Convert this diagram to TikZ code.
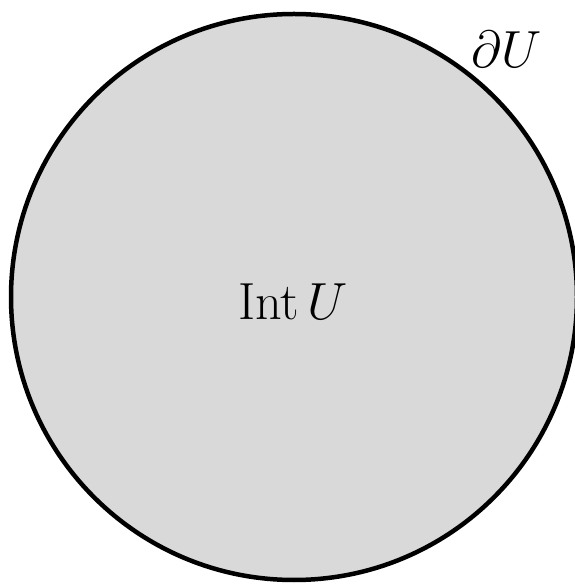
\documentclass[tikz,border=0pt]{standalone}
\usepackage{amsmath,amssymb}
\usepackage{tikz}
\usetikzlibrary{positioning}

\begin{document}
\begin{tikzpicture}[x=1pt, y=1pt,
  setdisk/.style={circle, draw=black, fill=gray!30, line width=4.5pt, minimum size=566pt, inner sep=0pt},
  setlabel/.style={font={\Huge}, scale=2.1, transform shape, inner sep=0pt}
]
\useasboundingbox (0,0) rectangle (575,584);
\node[setdisk] (U) at (294,287) {};
\node[setlabel] (int) at (293,282) {$\mathrm{Int}\,U$};
\node[setlabel] (bd) at (507,535) {$\partial U$};
\end{tikzpicture}
\end{document}
